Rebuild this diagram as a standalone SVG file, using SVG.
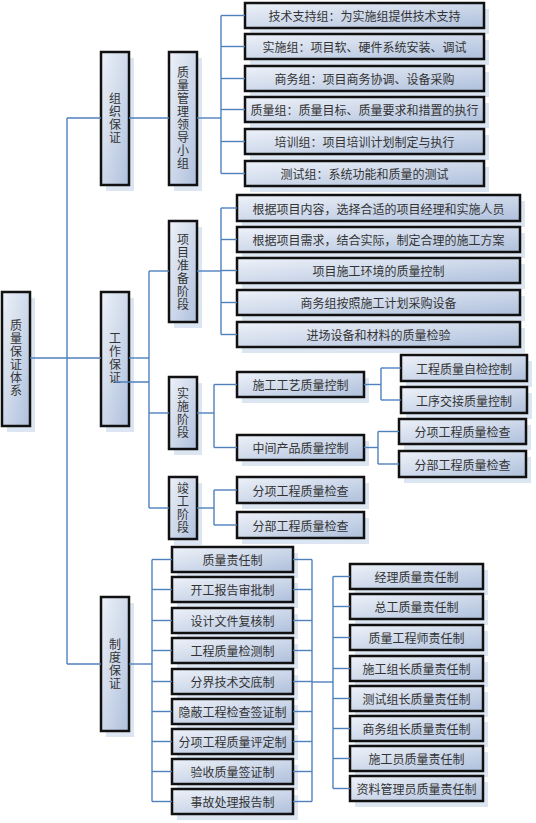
<svg xmlns="http://www.w3.org/2000/svg" width="536" height="823" viewBox="0 0 536 823">
<defs>
<linearGradient id="g" x1="0" y1="0" x2="1" y2="1">
<stop offset="0" stop-color="#eef2f9"/>
<stop offset="1" stop-color="#afc0dc"/>
</linearGradient>
</defs>
<style>
.b{fill:url(#g);stroke:#111;stroke-width:2.5}
.s{fill:#dce6f2}
.t{font-family:"Noto Sans CJK SC","Noto Sans",sans-serif;font-size:12px;fill:#333;text-anchor:middle;dominant-baseline:central}
.v{font-family:"Noto Sans CJK SC","Noto Sans",sans-serif;font-size:12px;fill:#333;text-anchor:middle;writing-mode:vertical-rl;letter-spacing:1px}
.c line{stroke:#4f81bd;stroke-width:1.4;fill:none}
</style>
<rect width="536" height="823" fill="#fff"/>

<g id="root"><rect class="s" x="7" y="298" width="28" height="134"/><rect class="b" x="2" y="292" width="28" height="134"/>
<text class="v" x="16" y="358.5">质量保证体系</text></g>

<g id="zuzhi"><rect class="s" x="106" y="58" width="28" height="133"/><rect class="b" x="101" y="52" width="28" height="133"/>
<text class="v" x="115" y="118.5">组织保证</text></g>

<g id="xiaozu"><rect class="s" x="174" y="58" width="28" height="133"/><rect class="b" x="169" y="52" width="28" height="133"/>
<text class="v" x="183" y="118.5">质量管理领导小组</text></g>

<g id="t1"><rect class="s" x="250" y="9" width="239" height="25"/><rect class="b" x="245" y="3" width="239" height="25"/><text class="t" x="364.5" y="15.5">技术支持组：为实施组提供技术支持</text></g>
<g id="t2"><rect class="s" x="250" y="40" width="239" height="25"/><rect class="b" x="245" y="34" width="239" height="25"/><text class="t" x="364.5" y="46.5">实施组：项目软、硬件系统安装、调试</text></g>
<g id="t3"><rect class="s" x="250" y="72" width="239" height="25"/><rect class="b" x="245" y="66" width="239" height="25"/><text class="t" x="364.5" y="78.5">商务组：项目商务协调、设备采购</text></g>
<g id="t4"><rect class="s" x="250" y="103" width="239" height="25"/><rect class="b" x="245" y="97" width="239" height="25"/><text class="t" x="364.5" y="109.5">质量组：质量目标、质量要求和措置的执行</text></g>
<g id="t5"><rect class="s" x="250" y="135" width="239" height="25"/><rect class="b" x="245" y="129" width="239" height="25"/><text class="t" x="364.5" y="141.5">培训组：项目培训计划制定与执行</text></g>
<g id="t6"><rect class="s" x="250" y="167" width="239" height="25"/><rect class="b" x="245" y="161" width="239" height="25"/><text class="t" x="364.5" y="173.5">测试组：系统功能和质量的测试</text></g>

<g id="gongzuo"><rect class="s" x="106" y="298" width="28" height="134"/><rect class="b" x="101" y="292" width="28" height="134"/>
<text class="v" x="115" y="358.5">工作保证</text></g>

<g id="zhunbei"><rect class="s" x="174" y="227" width="28" height="101"/><rect class="b" x="169" y="221" width="28" height="101"/>
<text class="v" x="183" y="272">项目准备阶段</text></g>

<g id="p1"><rect class="s" x="242" y="201" width="283" height="26"/><rect class="b" x="237" y="195" width="283" height="26"/><text class="t" x="378.5" y="208">根据项目内容，选择合适的项目经理和实施人员</text></g>
<g id="p2"><rect class="s" x="242" y="233" width="283" height="25"/><rect class="b" x="237" y="227" width="283" height="25"/><text class="t" x="378.5" y="239.5">根据项目需求，结合实际，制定合理的施工方案</text></g>
<g id="p3"><rect class="s" x="242" y="264" width="283" height="25"/><rect class="b" x="237" y="258" width="283" height="25"/><text class="t" x="378.5" y="270.5">项目施工环境的质量控制</text></g>
<g id="p4"><rect class="s" x="242" y="296" width="283" height="25"/><rect class="b" x="237" y="290" width="283" height="25"/><text class="t" x="378.5" y="302.5">商务组按照施工计划采购设备</text></g>
<g id="p5"><rect class="s" x="242" y="328" width="283" height="25"/><rect class="b" x="237" y="322" width="283" height="25"/><text class="t" x="378.5" y="334.5">进场设备和材料的质量检验</text></g>

<g id="shishi"><rect class="s" x="174" y="383" width="28" height="72"/><rect class="b" x="169" y="377" width="28" height="72"/>
<text class="v" x="183" y="413.5">实施阶段</text></g>

<g id="s1"><rect class="s" x="242" y="378" width="127" height="25"/><rect class="b" x="237" y="372" width="127" height="25"/><text class="t" x="300.5" y="384.5">施工工艺质量控制</text></g>
<g id="s2"><rect class="s" x="242" y="441" width="127" height="25"/><rect class="b" x="237" y="435" width="127" height="25"/><text class="t" x="300.5" y="447.5">中间产品质量控制</text></g>
<g id="s1a"><rect class="s" x="406" y="361" width="126" height="26"/><rect class="b" x="401" y="355" width="126" height="26"/><text class="t" x="464" y="368">工程质量自检控制</text></g>
<g id="s1b"><rect class="s" x="406" y="393" width="126" height="26"/><rect class="b" x="401" y="387" width="126" height="26"/><text class="t" x="464" y="400">工序交接质量控制</text></g>
<g id="s2a"><rect class="s" x="404" y="425" width="127" height="25"/><rect class="b" x="399" y="419" width="127" height="25"/><text class="t" x="462.5" y="431.5">分项工程质量检查</text></g>
<g id="s2b"><rect class="s" x="404" y="457" width="127" height="26"/><rect class="b" x="399" y="451" width="127" height="26"/><text class="t" x="462.5" y="464">分部工程质量检查</text></g>

<g id="jungong"><rect class="s" x="174" y="483" width="28" height="62"/><rect class="b" x="169" y="477" width="28" height="62"/>
<text class="v" x="183" y="508.5">竣工阶段</text></g>
<g id="j1"><rect class="s" x="242" y="483" width="127" height="26"/><rect class="b" x="237" y="477" width="127" height="26"/><text class="t" x="300.5" y="490">分项工程质量检查</text></g>
<g id="j2"><rect class="s" x="242" y="518" width="127" height="26"/><rect class="b" x="237" y="512" width="127" height="26"/><text class="t" x="300.5" y="525">分部工程质量检查</text></g>

<g id="zhidu"><rect class="s" x="106" y="603" width="28" height="134"/><rect class="b" x="101" y="597" width="28" height="134"/>
<text class="v" x="115" y="664.5">制度保证</text></g>

<g id="z1"><rect class="s" x="177" y="553" width="121" height="25"/><rect class="b" x="172" y="547" width="121" height="25"/><text class="t" x="232.5" y="559.5">质量责任制</text></g>
<g id="z2"><rect class="s" x="177" y="583" width="121" height="25"/><rect class="b" x="172" y="577" width="121" height="25"/><text class="t" x="232.5" y="589.5">开工报告审批制</text></g>
<g id="z3"><rect class="s" x="177" y="614" width="121" height="25"/><rect class="b" x="172" y="608" width="121" height="25"/><text class="t" x="232.5" y="620.5">设计文件复核制</text></g>
<g id="z4"><rect class="s" x="177" y="644" width="121" height="25"/><rect class="b" x="172" y="638" width="121" height="25"/><text class="t" x="232.5" y="650.5">工程质量检测制</text></g>
<g id="z5"><rect class="s" x="177" y="675" width="121" height="25"/><rect class="b" x="172" y="669" width="121" height="25"/><text class="t" x="232.5" y="681.5">分界技术交底制</text></g>
<g id="z6"><rect class="s" x="177" y="705" width="121" height="25"/><rect class="b" x="172" y="699" width="121" height="25"/><text class="t" x="232.5" y="711.5">隐蔽工程检查签证制</text></g>
<g id="z7"><rect class="s" x="177" y="735" width="121" height="25"/><rect class="b" x="172" y="729" width="121" height="25"/><text class="t" x="232.5" y="741.5">分项工程质量评定制</text></g>
<g id="z8"><rect class="s" x="177" y="765" width="121" height="25"/><rect class="b" x="172" y="759" width="121" height="25"/><text class="t" x="232.5" y="771.5">验收质量签证制</text></g>
<g id="z9"><rect class="s" x="177" y="795" width="121" height="25"/><rect class="b" x="172" y="789" width="121" height="25"/><text class="t" x="232.5" y="801.5">事故处理报告制</text></g>

<g id="r1"><rect class="s" x="355" y="570" width="133" height="25"/><rect class="b" x="350" y="564" width="133" height="25"/><text class="t" x="416.5" y="576.5">经理质量责任制</text></g>
<g id="r2"><rect class="s" x="355" y="600" width="133" height="25"/><rect class="b" x="350" y="594" width="133" height="25"/><text class="t" x="416.5" y="606.5">总工质量责任制</text></g>
<g id="r3"><rect class="s" x="355" y="631" width="133" height="25"/><rect class="b" x="350" y="625" width="133" height="25"/><text class="t" x="416.5" y="637.5">质量工程师责任制</text></g>
<g id="r4"><rect class="s" x="355" y="662" width="133" height="25"/><rect class="b" x="350" y="656" width="133" height="25"/><text class="t" x="416.5" y="668.5">施工组长质量责任制</text></g>
<g id="r5"><rect class="s" x="355" y="692" width="133" height="25"/><rect class="b" x="350" y="686" width="133" height="25"/><text class="t" x="416.5" y="698.5">测试组长质量责任制</text></g>
<g id="r6"><rect class="s" x="355" y="722" width="133" height="25"/><rect class="b" x="350" y="716" width="133" height="25"/><text class="t" x="416.5" y="728.5">商务组长质量责任制</text></g>
<g id="r7"><rect class="s" x="355" y="752" width="133" height="25"/><rect class="b" x="350" y="746" width="133" height="25"/><text class="t" x="416.5" y="758.5">施工员质量责任制</text></g>
<g id="r8"><rect class="s" x="355" y="782" width="133" height="25"/><rect class="b" x="350" y="776" width="133" height="25"/><text class="t" x="416.5" y="788.5">资料管理员质量责任制</text></g>

<g id="connectors" class="c">
<line x1="30" y1="358" x2="101" y2="358"/>
<line x1="67" y1="118" x2="67" y2="664"/>
<line x1="67" y1="118" x2="101" y2="118"/>
<line x1="67" y1="664" x2="101" y2="664"/>
<line x1="129" y1="118" x2="169" y2="118"/>
<line x1="197" y1="118" x2="221" y2="118"/>
<line x1="221" y1="15.5" x2="221" y2="173.5"/>
<line x1="221" y1="15.5" x2="245" y2="15.5"/>
<line x1="221" y1="46.5" x2="245" y2="46.5"/>
<line x1="221" y1="78.5" x2="245" y2="78.5"/>
<line x1="221" y1="109.5" x2="245" y2="109.5"/>
<line x1="221" y1="141.5" x2="245" y2="141.5"/>
<line x1="221" y1="173.5" x2="245" y2="173.5"/>
<line x1="129" y1="358" x2="149" y2="358"/>
<line x1="115" y1="382" x2="149" y2="382"/>
<line x1="149" y1="271" x2="149" y2="508"/>
<line x1="149" y1="271" x2="169" y2="271"/>
<line x1="149" y1="413" x2="169" y2="413"/>
<line x1="149" y1="508" x2="169" y2="508"/>
<line x1="197" y1="271" x2="221" y2="271"/>
<line x1="221" y1="208" x2="221" y2="334.5"/>
<line x1="221" y1="208" x2="237" y2="208"/>
<line x1="221" y1="239.5" x2="237" y2="239.5"/>
<line x1="221" y1="270.5" x2="237" y2="270.5"/>
<line x1="221" y1="302.5" x2="237" y2="302.5"/>
<line x1="221" y1="334.5" x2="237" y2="334.5"/>
<line x1="197" y1="413" x2="214" y2="413"/>
<line x1="214" y1="384.5" x2="214" y2="447.5"/>
<line x1="214" y1="384.5" x2="237" y2="384.5"/>
<line x1="214" y1="447.5" x2="237" y2="447.5"/>
<line x1="364" y1="384.5" x2="381" y2="384.5"/>
<line x1="381" y1="368" x2="381" y2="400"/>
<line x1="381" y1="368" x2="401" y2="368"/>
<line x1="381" y1="400" x2="401" y2="400"/>
<line x1="364" y1="447.5" x2="378" y2="447.5"/>
<line x1="378" y1="431.5" x2="378" y2="464"/>
<line x1="378" y1="431.5" x2="399" y2="431.5"/>
<line x1="378" y1="464" x2="399" y2="464"/>
<line x1="197" y1="508" x2="214" y2="508"/>
<line x1="214" y1="490" x2="214" y2="525"/>
<line x1="214" y1="490" x2="237" y2="490"/>
<line x1="214" y1="525" x2="237" y2="525"/>
<line x1="129" y1="664" x2="152" y2="664"/>
<line x1="152" y1="559.5" x2="152" y2="801.5"/>
<line x1="152" y1="559.5" x2="172" y2="559.5"/>
<line x1="152" y1="589.5" x2="172" y2="589.5"/>
<line x1="152" y1="620.5" x2="172" y2="620.5"/>
<line x1="152" y1="650.5" x2="172" y2="650.5"/>
<line x1="152" y1="681.5" x2="172" y2="681.5"/>
<line x1="152" y1="711.5" x2="172" y2="711.5"/>
<line x1="152" y1="741.5" x2="172" y2="741.5"/>
<line x1="152" y1="771.5" x2="172" y2="771.5"/>
<line x1="152" y1="801.5" x2="172" y2="801.5"/>
<line x1="293" y1="559.5" x2="312" y2="559.5"/>
<line x1="293" y1="589.5" x2="312" y2="589.5"/>
<line x1="293" y1="620.5" x2="312" y2="620.5"/>
<line x1="293" y1="650.5" x2="312" y2="650.5"/>
<line x1="293" y1="681.5" x2="312" y2="681.5"/>
<line x1="293" y1="711.5" x2="312" y2="711.5"/>
<line x1="293" y1="741.5" x2="312" y2="741.5"/>
<line x1="293" y1="771.5" x2="312" y2="771.5"/>
<line x1="293" y1="801.5" x2="312" y2="801.5"/>
<line x1="312" y1="559.5" x2="312" y2="801.5"/>
<line x1="312" y1="682" x2="333" y2="682"/>
<line x1="333" y1="576.5" x2="333" y2="788.5"/>
<line x1="333" y1="576.5" x2="350" y2="576.5"/>
<line x1="333" y1="606.5" x2="350" y2="606.5"/>
<line x1="333" y1="637.5" x2="350" y2="637.5"/>
<line x1="333" y1="668.5" x2="350" y2="668.5"/>
<line x1="333" y1="698.5" x2="350" y2="698.5"/>
<line x1="333" y1="728.5" x2="350" y2="728.5"/>
<line x1="333" y1="758.5" x2="350" y2="758.5"/>
<line x1="333" y1="788.5" x2="350" y2="788.5"/>
</g>
</svg>
